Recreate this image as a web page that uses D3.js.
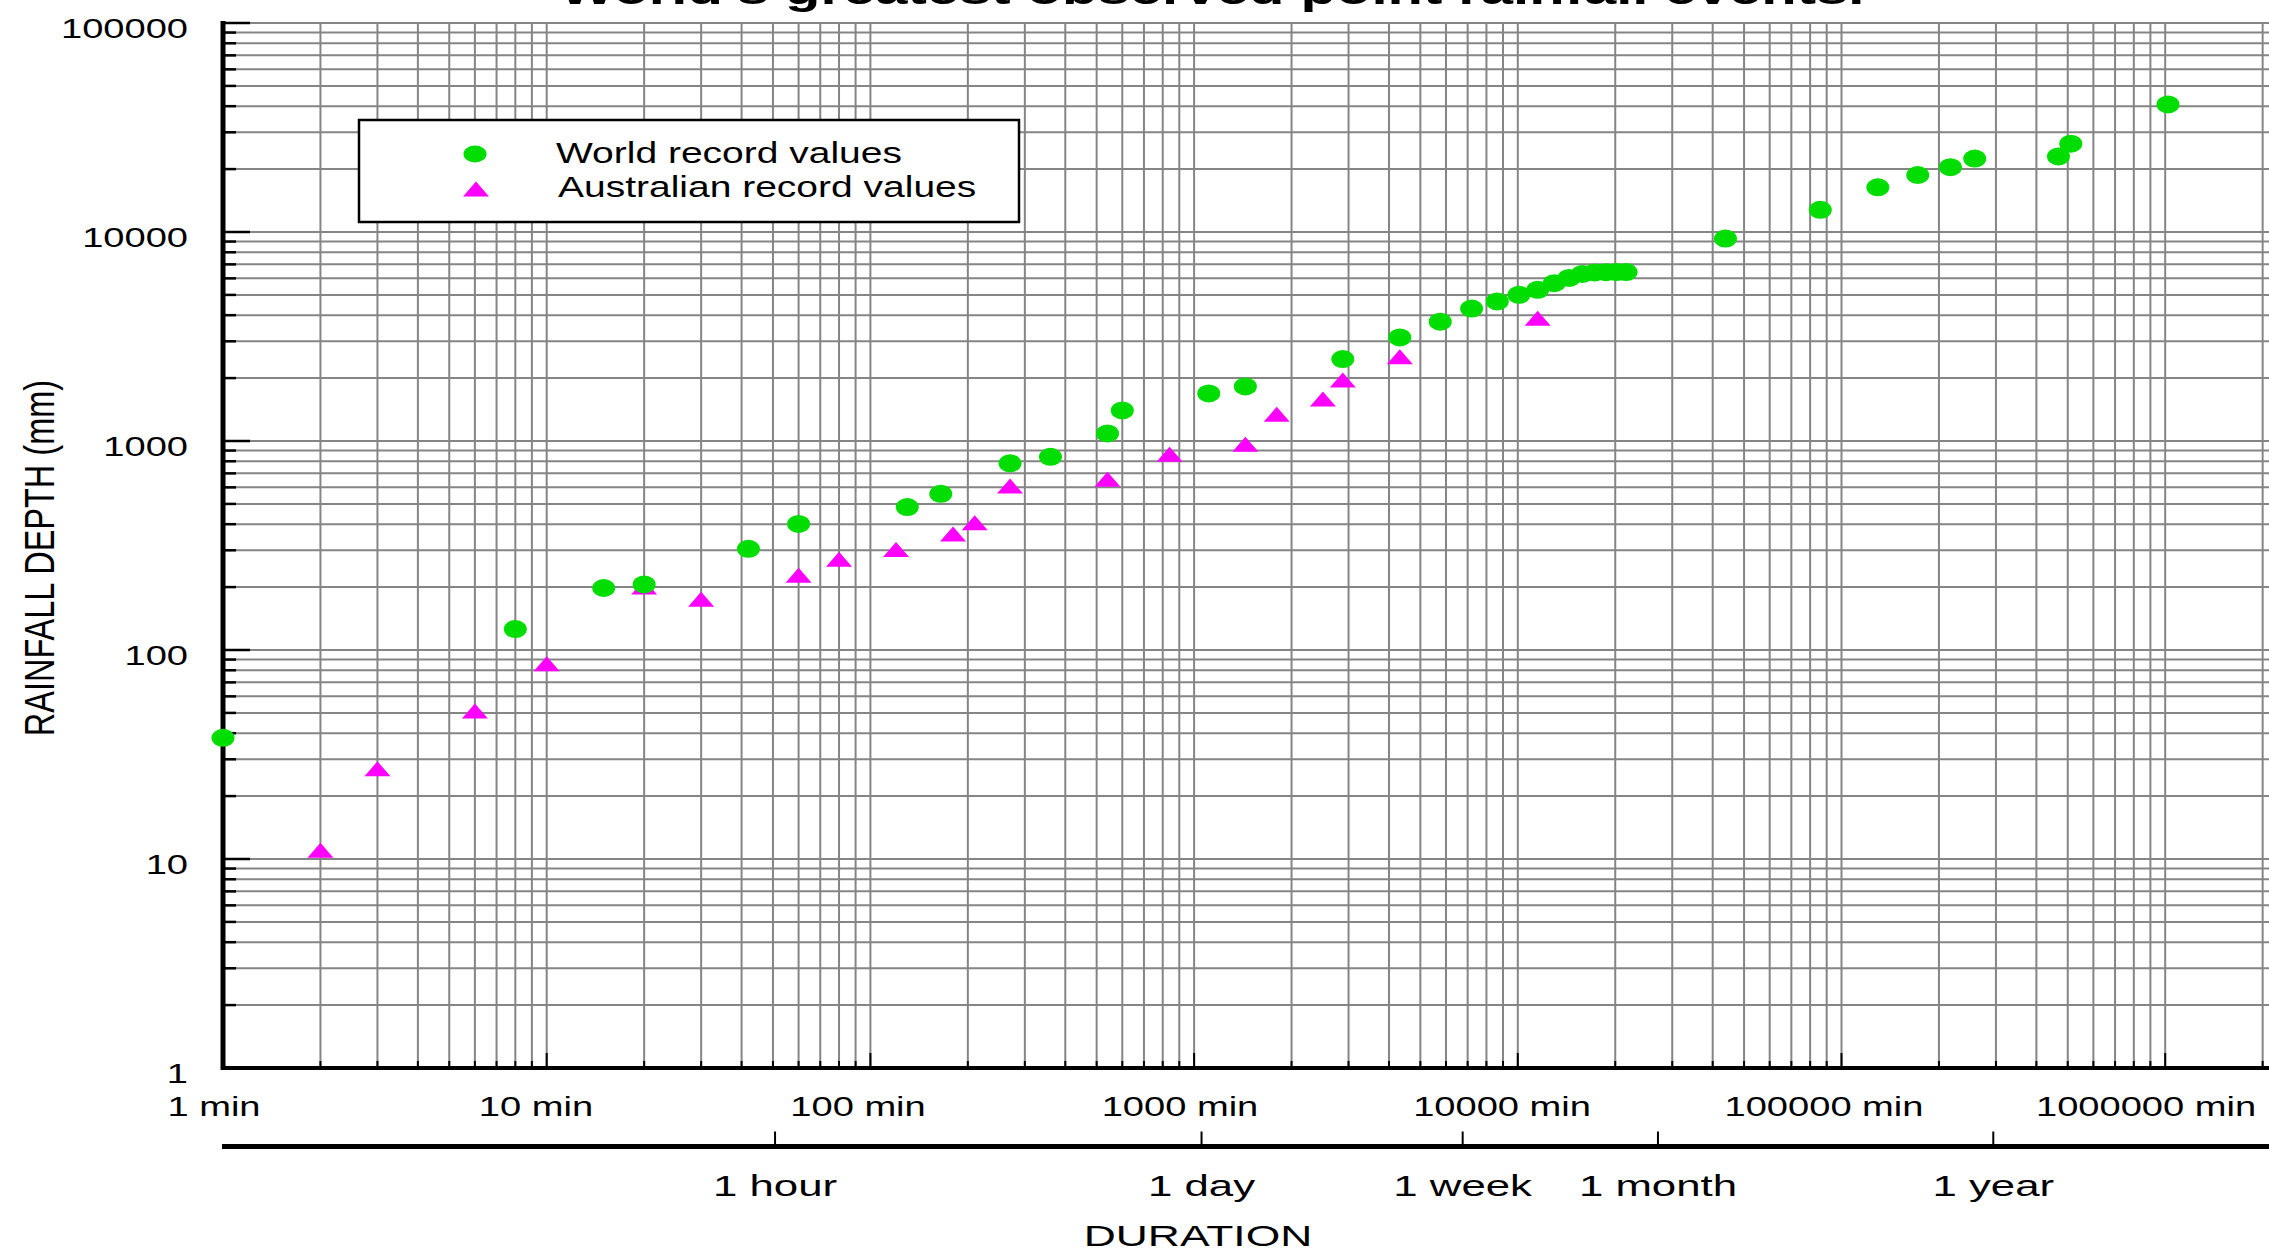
<!DOCTYPE html>
<html><head><meta charset="utf-8">
<script src="https://cdn.jsdelivr.net/npm/d3@7"></script>
<style>
body{margin:0;background:#fff}
svg{display:block}
text{font-family:"Liberation Sans",Arial,Helvetica,sans-serif;fill:#000}
</style></head><body>
<script>
// ---------- DATA ----------
const worldDuration = [1, 8, 15, 20, 42, 60, 130, 165, 270, 360, 540, 600, 1110, 1440, 2880, 4320, 5760, 7200, 8640, 10080, 11520, 12960, 14400, 15840, 17280, 18720, 20160, 21600, 43800, 86000, 129500, 172000, 217000, 258000, 468000, 511000, 1020000];
const worldDepth = [38, 126, 198, 206, 305, 401, 483, 559, 782, 840, 1087, 1400, 1689, 1825, 2467, 3130, 3721, 4301, 4653, 5003, 5286, 5692, 6028, 6299, 6401, 6422, 6432, 6433, 9300, 12767, 16369, 18738, 20412, 22454, 22990, 26461, 40768];
const ausDuration = [2, 3, 6, 10, 20, 30, 60, 80, 120, 180, 210, 270, 540, 840, 1440, 1800, 2500, 2880, 4320, 11520];
const ausDepth = [11, 27, 51, 86, 200, 175, 228, 272, 303, 359, 406, 609, 656, 863, 964, 1342, 1588, 1959, 2531, 3866];
const xTickValues = [1, 10, 100, 1000, 10000, 100000, 1000000];
const xTickLabels = ["1 min", "10 min", "100 min", "1000 min", "10000 min", "100000 min", "1000000 min"];
const yTickValues = [1, 10, 100, 1000, 10000, 100000];
const yTickLabels = ["1", "10", "100", "1000", "10000", "100000"];
const periodValues = [60, 1440, 10080, 43200, 525600];
const periodLabels = ["1 hour", "1 day", "1 week", "1 month", "1 year"];
const seriesNames = ["World record values", "Australian record values"];
const titleText = "World's greatest observed point rainfall events.";
const xTitle = "DURATION";
const yTitle = "RAINFALL DEPTH (mm)";

// ---------- LAYOUT ----------
const W = 2269, H = 1253;
const X0 = 223, DECX = 323.7;
const YTOP = 23, YBOT = 1068;
const AX2_Y = 1146.5;
const GREEN = "#00dd00", MAGENTA = "#ff00ff", GRID = "#858585";

const x = d3.scaleLog().domain([1, 1e6]).range([X0, X0 + 6 * DECX]);
const y = d3.scaleLog().domain([1, 1e5]).range([YBOT, YTOP]);
const xLab = d3.scaleLog().domain([1, 1e6]).range([214, 214 + 6 * 322]);
const x2 = d3.scaleLog().domain([1, 1e6]).range([225.6, 225.6 + 6 * 309]);

const svg = d3.select("body").append("svg").attr("width", W).attr("height", H);
svg.append("rect").attr("width", W).attr("height", H).attr("fill", "#fff");

function stext(parent, tx, ty, str, size, sx, anchor, weight, rot) {
  const g = parent.append("g")
    .attr("transform", `translate(${tx},${ty}) scale(${sx},1)` + (rot ? ` rotate(${rot})` : ""));
  g.append("text").attr("text-anchor", anchor).attr("font-size", size)
    .attr("font-weight", weight || "normal").text(str);
  return g;
}

// grid
const xGridVals = d3.scaleLog().domain([1, x.invert(W)]).ticks();
const yGridVals = y.ticks();
const grid = svg.append("g").attr("stroke", GRID).attr("stroke-width", 2);
grid.selectAll("line.v").data(xGridVals).join("line")
  .attr("x1", d => x(d)).attr("x2", d => x(d)).attr("y1", YTOP).attr("y2", YBOT);
grid.selectAll("line.h").data(yGridVals).join("line")
  .attr("y1", d => y(d)).attr("y2", d => y(d)).attr("x1", X0).attr("x2", W);

const isDecade = d => Math.abs(Math.log10(d) - Math.round(Math.log10(d))) < 1e-9;

// y axis
const ax = svg.append("g").attr("stroke", "#000");
ax.append("line").attr("x1", X0).attr("x2", X0).attr("y1", YTOP - 2).attr("y2", YBOT + 2).attr("stroke-width", 5);
ax.selectAll("line.yt").data(yGridVals).join("line")
  .attr("x1", X0).attr("x2", d => X0 + (isDecade(d) ? 27 : 13))
  .attr("y1", d => y(d)).attr("y2", d => y(d)).attr("stroke-width", 2.5);
// x axis
ax.append("line").attr("x1", X0 - 2).attr("x2", W).attr("y1", YBOT).attr("y2", YBOT).attr("stroke-width", 4);
ax.selectAll("line.xt").data(xGridVals).join("line")
  .attr("x1", d => x(d)).attr("x2", d => x(d))
  .attr("y1", YBOT).attr("y2", d => YBOT - (isDecade(d) ? 15 : 7)).attr("stroke-width", 2);
// secondary axis
ax.append("line").attr("x1", 222).attr("x2", W).attr("y1", AX2_Y).attr("y2", AX2_Y).attr("stroke-width", 5);
ax.selectAll("line.pt").data(periodValues).join("line")
  .attr("x1", d => x2(d)).attr("x2", d => x2(d))
  .attr("y1", AX2_Y).attr("y2", AX2_Y - 15).attr("stroke-width", 2);

// labels
yTickValues.forEach((v, i) => stext(svg, 188, y(v) + 15, yTickLabels[i], 28, 1.36, "end"));
xTickValues.forEach((v, i) => stext(svg, xLab(v), 1116, xTickLabels[i], 28, 1.36, "middle"));
periodValues.forEach((v, i) => stext(svg, x2(v), 1196, periodLabels[i], 30, 1.46, "middle"));
stext(svg, 1198, 1246, xTitle, 30, 1.48, "middle");
stext(svg, 54, 558, yTitle, 32.5, 1.33, "middle", "normal", -90);
stext(svg, 1212, 4, titleText, 40, 1.45, "middle", "bold");

// markers
const TW = 26, TH = 15, RX = 11.5, RY = 9;
const tri = (cx, cy) => `M${cx - TW / 2},${cy + TH / 2}L${cx},${cy - TH / 2}L${cx + TW / 2},${cy + TH / 2}Z`;
svg.append("g").selectAll("path").data(ausDuration).join("path")
  .attr("d", (d, i) => tri(x(d), y(ausDepth[i]))).attr("fill", MAGENTA);
svg.append("g").selectAll("ellipse").data(worldDuration).join("ellipse")
  .attr("cx", d => x(d)).attr("cy", (d, i) => y(worldDepth[i]))
  .attr("rx", RX).attr("ry", RY).attr("fill", GREEN);

// legend
const lg = svg.append("g");
lg.append("rect").attr("x", 359).attr("y", 120).attr("width", 660).attr("height", 102)
  .attr("fill", "#fff").attr("stroke", "#000").attr("stroke-width", 2.5);
lg.append("ellipse").attr("cx", 475).attr("cy", 154).attr("rx", RX).attr("ry", RY - 0.5).attr("fill", GREEN);
lg.append("path").attr("d", tri(476, 189)).attr("fill", MAGENTA);
stext(lg, 556, 163, seriesNames[0], 30, 1.3, "start");
stext(lg, 558, 197, seriesNames[1], 30, 1.3, "start");
</script>
</body></html>
